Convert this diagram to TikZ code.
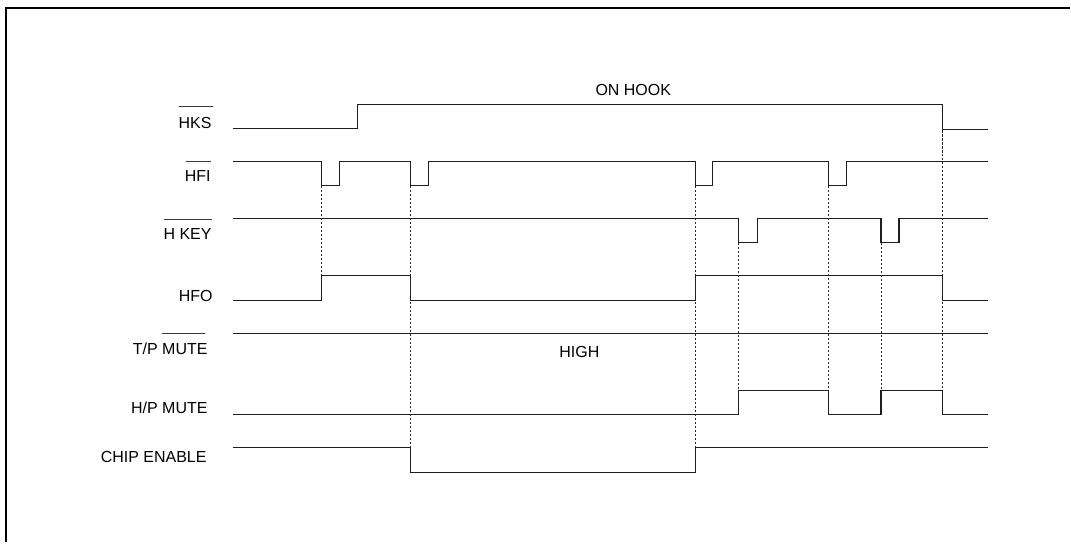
\documentclass[tikz,border=0pt]{standalone}
\usepackage{fontspec}
\setmainfont{Liberation Sans}
\usepackage{tikz}
\usetikzlibrary{arrows.meta}

\begin{document}
\begin{tikzpicture}[x=0.75pt,y=0.75pt,yscale=-1,xscale=1,
  wave/.style={color={rgb, 255:red, 30; green, 30; blue, 30 }, line width=0.8pt},
  guide/.style={color={rgb, 255:red, 40; green, 40; blue, 40 }, line width=0.75pt, dash pattern=on 2pt off 1pt},
  bar/.style={color={rgb, 255:red, 60; green, 60; blue, 60 }, line width=0.75pt},
  sig/.style={inner sep=0pt, anchor=base east, font=\fontsize{12}{14}\selectfont},
  note/.style={inner sep=0pt, anchor=base, font=\fontsize{12}{14}\selectfont}]
\path (0,0) rectangle (1071,543); %set diagram size 1071 x 543

%Shape: Frame
\draw [line width=1.8pt] (6,543) -- (6,8) -- (1071,8) ;

% Text Node
\node [sig] (hks) at (212,129) {HKS};
\draw [bar] (179,107) -- (213,107) ;
% Text Node
\node [sig] (hfi) at (211,182) {HFI};
\draw [bar] (186,162) -- (211,162) ;
% Text Node
\node [sig] (hkey) at (212,240) {H KEY};
\draw [bar] (164,220) -- (212,220) ;
% Text Node
\node [sig] (hfo) at (213,302) {HFO};
% Text Node
\node [sig] (tpmute) at (208,355) {T/P MUTE};
\draw [bar] (162,334) -- (205,334) ;
% Text Node
\node [sig] (hpmute) at (208,414) {H/P MUTE};
% Text Node
\node [sig] (chipen) at (207,463) {CHIP ENABLE};
% Text Node
\node [note] (onhook) at (634,96) {ON HOOK};
% Text Node
\node [note] (high) at (580,358) {HIGH};

%Straight Lines: HKS
\draw [wave] (233,129) -- (358,129) -- (358,105) -- (944,105) -- (944,130) -- (989,130) ;
%Straight Lines: HFI
\draw [wave] (233,162) -- (322,162) -- (322,186) -- (340,186) -- (340,162) -- (411,162) -- (411,186) -- (429,186) -- (429,162) -- (696,162) -- (696,186) -- (713,186) -- (713,162) -- (829,162) -- (829,186) -- (847,186) -- (847,162) -- (989,162) ;
%Straight Lines: H KEY
\draw [wave] (233,219) -- (739,219) -- (739,243) -- (758,243) -- (758,219) -- (882,219) -- (882,243) -- (900,243) -- (900,219) -- (989,219) ;
%Straight Lines: HFO
\draw [wave] (233,301) -- (322,301) -- (322,276) -- (411,276) -- (411,301) -- (696,301) -- (696,276) -- (944,276) -- (944,301) -- (989,301) ;
%Straight Lines: T/P MUTE
\draw [wave] (233,334) -- (989,334) ;
%Straight Lines: H/P MUTE
\draw [wave] (233,415) -- (739,415) -- (739,391) -- (829,391) -- (829,415) -- (882,415) -- (882,391) -- (944,391) -- (944,415) -- (989,415) ;
%Straight Lines: CHIP ENABLE
\draw [wave] (233,448) -- (411,448) -- (411,473) -- (696,473) -- (696,448) -- (989,448) ;

%Straight Lines: edge guides
\foreach \gx/\gtop/\gbot in {322/186/276, 411/186/448, 696/186/448, 739/243/391, 829/186/391, 882/243/391, 944/130/391}
  \draw [guide] (\gx,\gtop) -- (\gx,\gbot) ;

\end{tikzpicture}
\end{document}
